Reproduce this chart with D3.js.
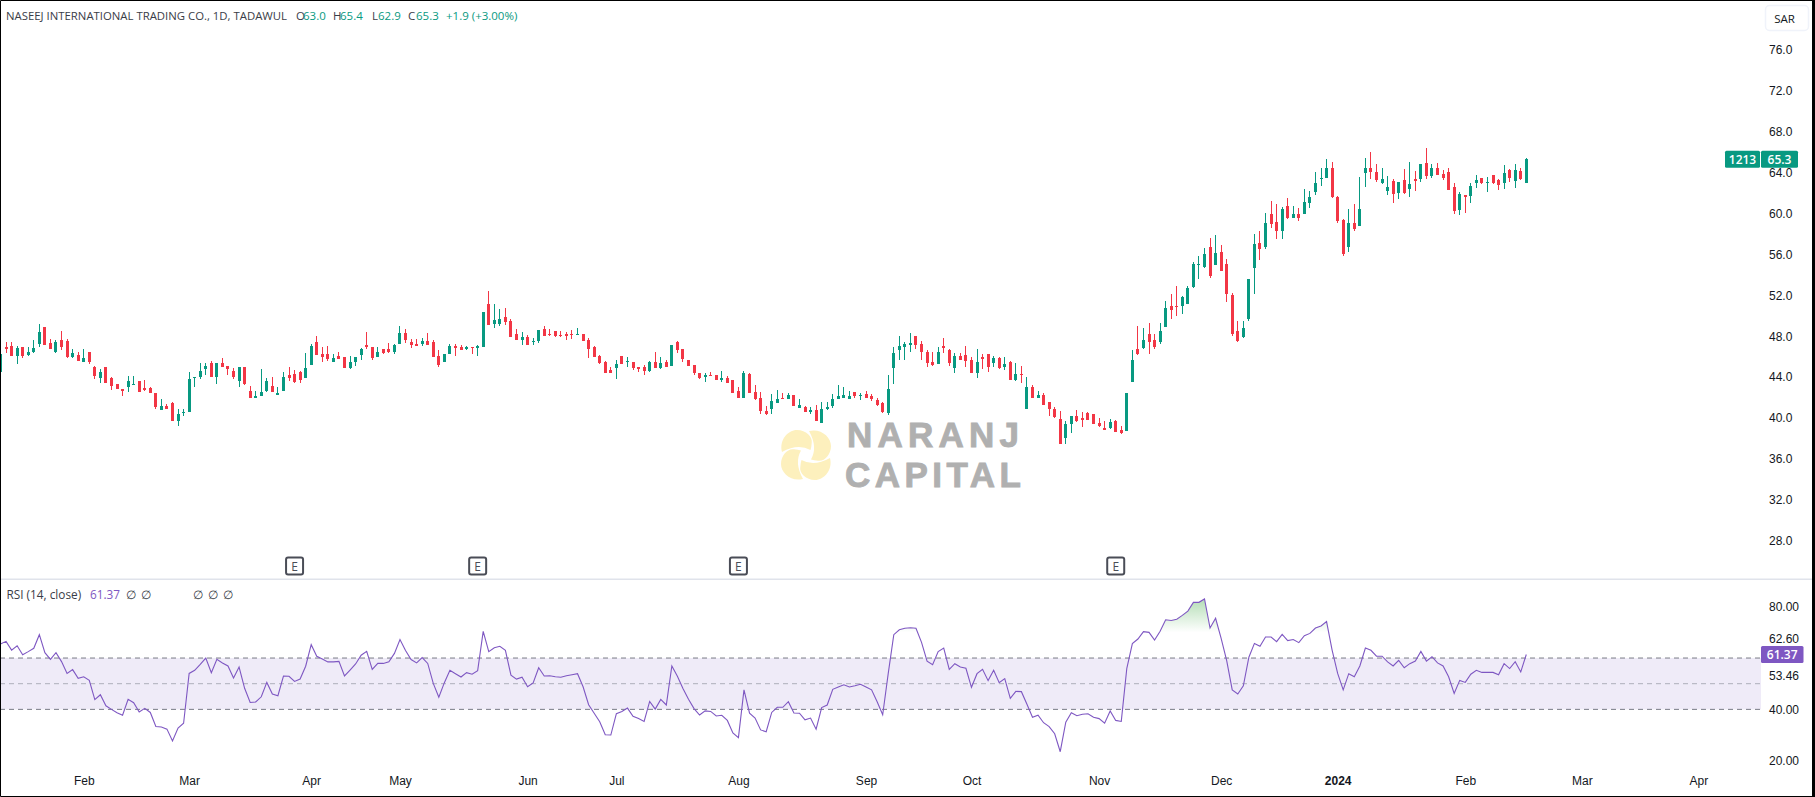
<!DOCTYPE html>
<html>
<head>
<meta charset="utf-8">
<script src="https://cdn.jsdelivr.net/npm/d3@7"></script>
<style>
  html, body { margin: 0; padding: 0; background: #fff; overflow: hidden; }
  svg { display: block; font-family: "Open Sans", sans-serif; }
</style>
</head>
<body>
<div id="chart"></div>
<script>
// daily candles
var highs = [46.3,47.4,47.4,47.0,46.9,46.9,47.6,49.2,48.9,47.7,
47.6,48.5,47.7,46.7,46.5,46.7,46.5,45.1,44.8,45.0,
44.0,43.3,42.8,44.1,44.1,43.6,43.7,43.0,42.4,41.9,
41.4,41.6,40.9,40.9,44.5,44.0,45.4,45.4,45.6,45.4,
45.9,45.1,44.9,45.0,45.0,43.1,42.6,44.8,43.9,44.0,
43.0,44.5,45.0,44.7,44.6,46.4,47.2,48.0,46.9,47.0,
46.3,46.5,46.0,46.1,46.0,46.8,48.4,46.9,46.9,46.7,
47.3,47.2,49.0,48.7,47.7,47.7,47.8,48.3,47.6,46.6,
46.3,47.2,47.2,47.1,47.0,46.9,47.1,50.4,52.4,51.1,
50.7,50.8,49.7,48.7,48.4,48.1,47.8,48.6,49.0,48.7,
48.5,48.5,48.4,48.6,48.8,48.2,47.8,47.0,46.2,45.6,
45.0,45.7,46.1,46.0,45.5,45.0,45.2,45.6,46.5,46.0,
45.7,47.1,47.5,46.7,45.7,45.2,44.4,44.4,44.5,44.2,
44.6,44.1,43.7,43.0,44.6,44.4,43.2,42.5,41.2,42.3,
42.7,42.4,42.4,42.2,41.9,41.2,41.1,41.3,41.6,41.6,
42.3,43.2,43.0,42.6,42.5,42.4,42.6,42.3,42.0,41.6,
44.2,46.9,48.0,47.4,48.3,48.0,47.5,46.6,46.5,46.9,
47.8,46.7,46.4,46.4,47.0,46.0,46.7,46.3,46.3,46.1,
46.0,46.0,45.6,45.4,45.1,44.0,43.2,42.6,42.4,41.6,
41.1,40.7,39.7,40.2,40.8,40.6,40.6,40.4,40.0,39.7,
39.9,39.8,39.2,42.4,46.6,49.0,48.8,49.3,48.2,49.3,
51.4,52.1,52.9,51.9,52.9,55.3,55.8,56.6,57.6,57.9,
56.9,55.6,52.2,49.5,49.5,53.6,58.0,58.3,60.1,61.2,
60.9,60.6,61.5,60.7,60.5,62.4,62.2,64.1,64.5,65.3,
65.0,61.7,59.5,60.4,60.9,63.6,65.4,66.0,64.8,64.5,
63.7,63.4,63.1,64.4,65.0,64.2,64.8,66.4,64.8,64.9,
64.3,64.5,63.0,62.1,61.8,63.0,63.8,63.5,63.6,63.8,
63.4,64.7,64.4,64.8,64.5,65.4];

var lows = [44.5,46.4,46.1,45.3,45.9,46.1,46.4,46.9,47.1,46.7,
46.4,46.6,45.9,45.9,45.6,45.5,45.3,43.8,43.4,43.4,
42.7,42.8,42.1,42.5,43.2,42.5,42.6,42.4,40.9,40.8,
40.9,39.7,39.2,40.2,40.6,43.0,43.8,44.2,44.0,43.3,
45.0,44.2,43.8,43.0,43.2,42.0,42.0,42.1,42.5,42.5,
42.2,42.6,43.6,43.4,43.4,43.9,45.2,46.2,45.5,45.6,
45.5,45.8,44.9,44.8,45.1,45.7,46.7,45.7,46.0,46.3,
46.4,46.3,47.2,47.3,46.8,47.0,47.0,47.1,46.0,45.0,
45.5,46.3,46.1,46.6,46.6,46.3,46.1,46.9,49.1,48.8,
49.0,49.1,47.9,47.6,47.1,47.1,47.1,47.3,48.0,48.0,
47.9,47.9,47.6,47.7,48.1,47.5,45.9,46.0,45.3,44.4,
44.4,43.8,45.3,45.0,44.7,44.5,44.2,44.5,44.9,44.8,
45.0,45.1,46.4,45.5,45.1,44.2,43.8,43.5,44.1,43.7,
43.5,43.4,42.4,42.0,42.0,42.4,41.8,40.4,40.3,40.4,
41.5,41.9,41.9,41.2,41.0,40.6,40.4,39.7,39.5,40.8,
41.0,41.9,42.0,41.9,42.0,41.8,42.0,41.7,41.2,40.5,
40.3,43.3,45.7,45.7,46.5,46.7,45.7,45.0,45.1,45.3,
46.4,45.1,44.4,45.7,45.0,44.4,43.9,44.8,44.5,45.0,
44.8,44.7,43.7,43.6,43.4,40.9,42.0,42.0,41.3,40.2,
40.0,37.5,37.5,38.5,39.6,39.1,39.8,39.4,39.1,38.8,
38.9,38.6,38.4,38.7,43.5,46.2,46.7,46.3,46.7,47.2,
48.9,49.7,50.0,50.2,51.1,52.7,53.6,54.7,53.7,55.0,
54.4,51.3,48.0,47.4,47.8,49.5,52.1,55.5,56.5,58.6,
57.5,57.5,59.5,59.6,59.3,60.0,60.5,61.8,62.7,63.5,
61.5,59.1,55.8,56.2,58.3,58.8,62.6,63.4,63.1,62.9,
61.8,61.0,61.4,61.9,61.6,62.2,63.1,63.4,63.5,63.8,
63.3,62.3,60.0,59.9,60.1,61.0,62.5,62.9,62.1,62.9,
62.3,62.4,63.1,62.5,63.3,63.0];

var opens = [44.5,46.9,47.0,46.1,46.9,46.2,46.5,47.2,48.9,47.3,
46.5,47.6,47.5,46.0,46.2,45.5,46.5,45.0,43.9,45.0,
43.9,43.3,42.8,43.0,43.2,43.6,42.9,42.9,42.4,40.8,
41.2,41.5,39.7,40.5,40.6,43.9,44.0,44.8,45.4,44.0,
45.4,45.1,44.6,43.6,45.0,42.6,42.0,42.1,42.6,43.1,
42.2,42.6,44.2,44.3,44.5,43.9,45.2,47.4,46.3,46.3,
45.5,46.1,46.0,44.9,45.5,46.2,47.1,46.9,46.0,46.7,
46.7,46.5,47.2,48.3,47.4,47.2,47.2,47.5,47.4,46.1,
45.5,46.3,47.0,46.9,46.7,46.9,46.8,46.9,51.1,49.2,
49.2,49.9,49.5,48.2,47.6,47.9,47.4,47.5,48.7,48.2,
48.5,48.1,48.2,48.2,48.1,48.2,47.6,46.9,46.1,45.5,
44.7,44.9,46.1,45.5,45.5,45.0,45.0,44.6,45.5,44.9,
45.5,45.1,47.4,46.7,45.7,45.2,44.4,44.0,44.2,44.2,
43.7,43.9,43.7,42.6,42.0,44.3,42.5,42.0,40.7,40.9,
41.5,42.0,41.9,42.2,41.0,41.1,40.6,40.8,39.5,40.9,
41.2,41.9,42.0,41.9,42.5,42.1,42.3,42.1,41.8,41.5,
40.5,44.9,46.6,46.9,47.1,48.0,47.2,46.5,45.5,45.3,
47.0,46.6,44.9,46.1,46.2,45.7,44.4,46.0,46.3,45.4,
45.9,45.0,45.5,43.7,44.3,40.9,43.0,42.0,42.2,41.6,
40.9,39.9,38.0,39.4,40.2,40.0,40.5,40.4,39.5,39.0,
39.0,39.7,38.8,38.7,43.5,46.7,46.8,48.2,47.6,47.4,
48.9,51.0,51.0,51.0,51.1,52.8,55.0,54.8,56.7,55.0,
56.2,55.1,52.0,48.5,47.9,49.7,54.7,57.1,56.7,60.0,
59.2,58.3,60.7,59.6,60.0,60.0,61.0,62.1,63.4,63.5,
64.5,61.6,59.4,56.7,59.1,58.8,64.0,64.5,64.1,63.0,
62.2,63.2,62.0,63.3,62.4,63.4,63.4,64.9,63.7,64.5,
63.9,64.1,62.6,60.3,61.8,61.7,63.0,63.5,63.0,63.8,
63.3,63.0,64.3,63.2,64.2,63.0];

var closes = [46.3,46.7,46.1,46.8,46.1,46.5,46.8,48.4,47.1,46.7,
47.4,46.9,46.0,46.4,45.6,45.9,45.5,44.1,44.5,43.4,
43.1,42.8,42.6,43.6,43.3,42.5,42.7,42.4,41.1,41.2,
40.9,39.7,40.4,40.6,43.8,44.0,44.6,45.1,44.0,45.4,
45.0,44.8,44.0,45.0,43.3,42.0,42.1,42.5,43.6,42.5,
42.4,44.0,43.9,43.5,43.7,44.9,47.0,46.2,46.0,45.8,
45.9,45.8,44.9,45.5,46.0,46.7,46.9,45.9,46.5,46.4,
46.5,47.1,48.3,47.6,47.1,47.0,47.5,47.1,46.0,45.2,
46.3,47.0,46.8,46.6,46.9,46.8,47.0,50.4,49.1,49.6,
49.7,49.4,47.9,47.6,47.9,47.1,47.5,48.6,48.0,48.1,
48.0,48.0,48.0,48.1,48.2,47.5,46.7,46.0,45.4,44.4,
44.4,45.3,45.3,45.6,44.9,44.8,44.6,45.5,44.9,45.4,
45.0,47.1,46.6,45.8,45.1,44.4,43.9,44.2,44.1,43.7,
43.9,43.4,42.4,42.0,44.4,42.4,41.9,40.7,40.4,41.7,
41.9,41.9,42.2,41.2,41.3,40.6,40.8,39.7,40.9,41.1,
41.9,42.1,42.2,42.1,42.1,42.2,42.0,41.9,41.3,40.6,
42.8,46.4,47.0,47.2,47.3,47.1,46.5,45.4,45.2,46.5,
46.8,45.4,46.1,45.7,45.6,44.4,45.5,45.8,45.0,45.9,
44.9,45.3,43.7,44.3,44.2,43.0,42.0,42.2,41.3,40.9,
40.1,37.5,39.4,40.2,39.7,39.8,39.8,39.4,39.2,38.8,
39.6,38.6,38.5,42.4,45.7,46.3,47.6,47.4,46.9,48.5,
50.8,50.6,50.9,51.8,52.7,55.1,55.1,56.0,53.9,56.1,
54.4,52.1,48.2,47.5,48.8,53.6,57.0,56.5,59.1,59.0,
58.3,60.4,59.6,60.0,59.6,61.1,61.6,63.0,63.5,64.5,
61.6,59.3,56.0,59.1,58.5,60.4,64.5,64.1,63.3,63.4,
62.6,61.9,63.1,62.0,62.9,63.2,64.8,63.7,64.5,63.8,
63.5,62.3,60.2,61.9,61.6,62.7,63.3,63.0,63.1,63.0,
62.8,64.0,63.5,64.3,63.4,65.3];

// rsi line, one value per candle
var rsiValues = [65.5,66.5,63.1,64.8,61.3,62.5,63.8,69.1,62.1,59.5,
62.1,58.6,54.0,55.5,52.1,52.7,51.3,43.8,45.7,41.4,
40.0,38.7,37.7,43.9,42.6,39.0,40.4,38.8,33.3,33.1,
32.3,27.7,32.7,34.6,54.0,55.2,57.5,60.0,54.3,59.5,
58.1,56.9,52.2,56.5,48.2,42.7,42.9,44.9,50.5,46.0,
45.3,53.0,52.9,50.9,51.8,56.8,65.2,60.7,59.6,58.5,
58.5,58.7,53.0,55.3,57.7,61.1,62.6,55.6,57.9,57.9,
58.5,61.8,67.2,62.9,59.4,58.1,60.2,57.9,50.1,44.7,
50.4,55.2,53.9,52.6,54.3,53.7,55.1,70.4,62.5,64.0,
64.6,63.0,53.3,51.8,52.5,48.8,50.3,56.2,53.0,53.1,
52.7,52.5,53.1,53.5,53.9,48.8,41.8,38.5,35.2,30.1,
30.0,38.3,39.2,40.5,37.3,36.4,35.3,43.1,40.1,43.9,
41.7,56.9,52.9,48.1,43.9,40.3,37.8,39.4,39.2,37.4,
37.7,35.7,30.8,29.0,47.6,38.5,36.6,32.0,31.3,38.8,
40.8,40.8,43.0,38.6,38.5,35.9,36.6,32.3,40.7,41.7,
47.8,48.7,49.6,48.7,49.2,49.8,48.7,47.6,43.0,37.9,
54.0,69.1,71.0,71.6,71.8,71.6,66.1,58.8,57.4,62.5,
63.9,55.6,57.8,56.5,56.0,48.6,53.9,55.6,51.2,55.2,
50.4,52.0,44.3,47.0,46.9,42.0,36.9,37.7,34.8,33.3,
30.5,23.5,35.0,38.7,37.5,38.1,38.3,36.9,36.4,34.6,
39.4,35.7,35.3,56.0,65.6,67.4,70.3,70.0,67.0,70.4,
74.9,74.6,75.1,76.6,78.3,81.7,81.7,83.0,71.7,75.5,
67.7,59.0,47.6,46.0,49.2,60.3,65.7,64.6,68.2,68.2,
66.4,69.2,66.8,67.2,66.0,68.7,69.6,71.7,72.5,74.2,
63.1,54.0,47.6,53.9,52.7,56.9,63.9,63.0,60.7,60.7,
58.5,56.9,59.1,56.2,57.8,58.8,62.6,58.8,60.5,58.1,
56.9,52.7,46.2,51.3,50.5,53.7,55.2,54.4,54.4,54.4,
53.5,57.8,55.9,58.6,54.6,61.37];

// axis labels
var priceTicks = [76,72,68,64,60,56,52,48,44,40,36,32,28];
var rsiTicks = [80,62.6,53.46,40,20];
var monthCandles = [15,34,56,72,95,111,133,156,175,198,220,241,264,285,306];
var monthLabels = ["Feb","Mar","Apr","May","Jun","Jul","Aug","Sep","Oct","Nov","Dec","2024","Feb","Mar","Apr"];
var earningsCandles = [53,86,133,201];
var rsiLevels = [60,50,40];
var overbought = 70;

// set the dimensions of the graph
var width = 1815, height = 797;
var paneRight = 1761;
var green = "#089981", red = "#f23645", purple = "#7e57c2";
var textColor = "#131722", legendColor = "#3a3d47";

var svg = d3.select("#chart")
  .append("svg")
    .attr("width", width)
    .attr("height", height);

var x = d3.scaleLinear().domain([0, 275]).range([0.5, 1526.3]);
var y = d3.scaleLinear().domain([76, 28]).range([50, 540.6]);
var yRsi = d3.scaleLinear().domain([80, 20]).range([606.7, 760.7]);

// pane divider
svg.append("rect")
  .attr("x", 0).attr("y", 578.5).attr("width", width).attr("height", 1.5)
  .attr("fill", "#e0e3eb");

// watermark
var logo = svg.append("g").attr("transform", "translate(806,455)");
logo.selectAll("path")
  .data([0, 90, 180, 270])
  .enter()
  .append("path")
    .attr("d", "M-24,-3 C-27,-15 -18,-25 -9,-25 C0,-25 7,-18 5.7,-12 Q5.5,-8 4.5,-5 Q-8,-12 -24,-3 Z")
    .attr("transform", function(d) { return "rotate(" + d + ")"; })
    .attr("fill", "#fdf0bd");

var markFont = '"Liberation Sans", sans-serif';
svg.append("text")
  .attr("x", 847).attr("y", 447)
  .attr("textLength", 172).attr("lengthAdjust", "spacing")
  .attr("font-family", markFont)
  .attr("font-size", 35).attr("font-weight", 700).attr("fill", "#b0b0b0")
  .attr("stroke", "#b0b0b0").attr("stroke-width", 0.9)
  .text("NARANJ");
svg.append("text")
  .attr("x", 845).attr("y", 487)
  .attr("textLength", 176).attr("lengthAdjust", "spacing")
  .attr("font-family", markFont)
  .attr("font-size", 35).attr("font-weight", 700).attr("fill", "#b0b0b0")
  .attr("stroke", "#b0b0b0").attr("stroke-width", 0.9)
  .text("CAPITAL");

// candles
var candles = svg.append("g").selectAll("g")
  .data(d3.range(closes.length))
  .enter()
  .append("g")
    .attr("fill", function(i) { return closes[i] >= opens[i] ? green : red; })
    .attr("shape-rendering", "crispEdges");

candles.append("rect")
  .attr("x", function(i) { return Math.floor(x(i)); })
  .attr("y", function(i) { return Math.round(y(highs[i])); })
  .attr("width", 1)
  .attr("height", function(i) { return Math.round(y(lows[i])) - Math.round(y(highs[i])); });

candles.append("rect")
  .attr("x", function(i) { return Math.floor(x(i)) - 1; })
  .attr("y", function(i) { return Math.round(y(Math.max(opens[i], closes[i]))); })
  .attr("width", 3)
  .attr("height", function(i) {
    return Math.max(1, Math.round(y(Math.min(opens[i], closes[i]))) - Math.round(y(Math.max(opens[i], closes[i]))));
  });

// earnings markers
var earnings = svg.append("g").selectAll("g")
  .data(earningsCandles)
  .enter()
  .append("g")
    .attr("transform", function(d) { return "translate(" + x(d) + ",566)"; });
earnings.append("rect")
  .attr("x", -8.5).attr("y", -8.5).attr("width", 17).attr("height", 17).attr("rx", 2)
  .attr("fill", "#fff").attr("stroke", "#4a4d57").attr("stroke-width", 2);
earnings.append("text")
  .attr("text-anchor", "middle").attr("y", 4.5)
  .attr("font-size", 12).attr("fill", "#4a4d57")
  .text("E");

// rsi band and levels
svg.append("rect")
  .attr("x", 0).attr("y", yRsi(60)).attr("width", paneRight)
  .attr("height", yRsi(40) - yRsi(60))
  .attr("fill", purple).attr("fill-opacity", 0.12);

svg.append("g").selectAll("line")
  .data(rsiLevels)
  .enter()
  .append("line")
    .attr("x1", 0).attr("x2", paneRight)
    .attr("y1", function(d) { return yRsi(d); })
    .attr("y2", function(d) { return yRsi(d); })
    .attr("stroke", "#787b86")
    .attr("stroke-opacity", function(d) { return d === 50 ? 0.55 : 1; })
    .attr("stroke-width", 1)
    .attr("stroke-dasharray", "5,4");

// green fill above the overbought level
var defs = svg.append("defs");
var grad = defs.append("linearGradient")
  .attr("id", "obFill")
  .attr("gradientUnits", "userSpaceOnUse")
  .attr("x1", 0).attr("x2", 0)
  .attr("y1", yRsi(84)).attr("y2", yRsi(overbought));
grad.append("stop").attr("offset", 0).attr("stop-color", "#4caf50").attr("stop-opacity", 0.45);
grad.append("stop").attr("offset", 1).attr("stop-color", "#4caf50").attr("stop-opacity", 0);

defs.append("clipPath").attr("id", "obClip")
  .append("rect")
    .attr("x", 0).attr("y", 0).attr("width", width).attr("height", yRsi(overbought));

var rsiArea = d3.area()
  .x(function(d, i) { return x(i); })
  .y0(yRsi(overbought))
  .y1(function(d) { return yRsi(d); });

svg.append("path")
  .datum(rsiValues)
  .attr("d", rsiArea)
  .attr("fill", "url(#obFill)")
  .attr("clip-path", "url(#obClip)");

// rsi line
var rsiLine = d3.line()
  .x(function(d, i) { return x(i); })
  .y(function(d) { return yRsi(d); });

svg.append("path")
  .datum(rsiValues)
  .attr("d", rsiLine)
  .attr("fill", "none")
  .attr("stroke", purple)
  .attr("stroke-width", 1.1);

// price axis
var priceAxis = svg.append("g")
  .attr("transform", "translate(1769,0)")
  .call(d3.axisRight(y).tickValues(priceTicks).tickSize(0).tickPadding(0)
    .tickFormat(d3.format(".1f")));
priceAxis.select(".domain").remove();
priceAxis.selectAll("text").attr("font-size", 12).attr("font-family", "inherit").attr("fill", textColor);

// rsi axis, the label under the value tag moves up
var lastRsi = rsiValues[rsiValues.length - 1];
var rsiAxis = svg.append("g")
  .attr("transform", "translate(1769,0)")
  .call(d3.axisRight(yRsi).tickValues(rsiTicks).tickSize(0).tickPadding(0)
    .tickFormat(d3.format(".2f")));
rsiAxis.select(".domain").remove();
rsiAxis.selectAll("text").attr("font-size", 12).attr("font-family", "inherit").attr("fill", textColor)
  .attr("dy", function(d) { return Math.abs(yRsi(d) - yRsi(lastRsi)) < 8 ? "-0.7em" : "0.32em"; });
rsiAxis.selectAll(".tick").filter(function(d) { return d === 53.46; })
  .select("text").attr("dy", "0.42em");

// time axis
var timeAxis = svg.append("g")
  .attr("transform", "translate(0,776)")
  .call(d3.axisBottom(x).tickValues(monthCandles).tickSize(0).tickPadding(0)
    .tickFormat(function(d, i) { return monthLabels[i]; }));
timeAxis.select(".domain").remove();
timeAxis.selectAll("text")
  .attr("font-size", 12).attr("font-family", "inherit").attr("fill", textColor)
  .attr("font-weight", function(d) { return d === 241 ? 700 : 400; });

// last price tags
var lastClose = closes[closes.length - 1];
var tagY = y(lastClose);
var tags = [
  {x: 1725, w: 35, label: "1213"},
  {x: 1761, w: 37, label: d3.format(".1f")(lastClose)}
];
var tag = svg.append("g").selectAll("g").data(tags).enter().append("g");
tag.append("rect")
  .attr("x", function(d) { return d.x; }).attr("y", tagY - 8.5)
  .attr("width", function(d) { return d.w; }).attr("height", 17)
  .attr("rx", 1.5).attr("fill", green);
tag.append("text")
  .attr("x", function(d) { return d.x + d.w / 2; }).attr("y", tagY + 4.3)
  .attr("text-anchor", "middle").attr("font-size", 12).attr("font-weight", 600).attr("fill", "#fff")
  .text(function(d) { return d.label; });

svg.append("rect")
  .attr("x", 1761).attr("y", yRsi(lastRsi) - 8.5).attr("width", 42.5).attr("height", 17)
  .attr("rx", 1.5).attr("fill", purple);
svg.append("text")
  .attr("x", 1782.2).attr("y", yRsi(lastRsi) + 4.3)
  .attr("text-anchor", "middle").attr("font-size", 12).attr("font-weight", 600).attr("fill", "#fff")
  .text(d3.format(".2f")(lastRsi));

// currency button
svg.append("rect")
  .attr("x", 1765.5).attr("y", 5.5).attr("width", 43).attr("height", 25).attr("rx", 4)
  .attr("fill", "#fff").attr("stroke", "#f0f3fa").attr("stroke-width", 1.5);
svg.append("text")
  .attr("x", 1784.5).attr("y", 23).attr("text-anchor", "middle")
  .attr("font-size", 11.5).attr("fill", textColor).text("SAR");

// legends
var titleParts = [
  {x: 296, c: legendColor, t: "O"}, {x: 303, c: green, t: d3.format(".1f")(opens[275])},
  {x: 333, c: legendColor, t: "H"}, {x: 340, c: green, t: d3.format(".1f")(highs[275])},
  {x: 372, c: legendColor, t: "L"}, {x: 378, c: green, t: "62.9"},
  {x: 408, c: legendColor, t: "C"}, {x: 416, c: green, t: d3.format(".1f")(lastClose)},
  {x: 446, c: green, t: "+1.9 (+3.00%)"}
];
svg.append("text")
  .attr("x", 6).attr("y", 20)
  .attr("textLength", 281).attr("lengthAdjust", "spacingAndGlyphs")
  .attr("font-size", 11.5).attr("fill", legendColor)
  .text("NASEEJ INTERNATIONAL TRADING CO., 1D, TADAWUL");
svg.append("g").selectAll("text")
  .data(titleParts)
  .enter()
  .append("text")
    .attr("x", function(d) { return d.x; })
    .attr("y", 20)
    .attr("font-size", 11.5)
    .attr("fill", function(d) { return d.c; })
    .text(function(d) { return d.t; });

svg.append("text")
  .attr("x", 6.5).attr("y", 599)
  .attr("font-size", 11.8).attr("fill", legendColor)
  .text("RSI (14, close)");
svg.append("text")
  .attr("x", 90).attr("y", 599)
  .attr("font-size", 11.8).attr("fill", purple)
  .text(d3.format(".2f")(lastRsi));

var emptyValues = [131, 146, 197.7, 213, 228];
svg.append("g").selectAll("text")
  .data(emptyValues)
  .enter()
  .append("text")
    .attr("x", function(d) { return d; })
    .attr("y", 599)
    .attr("text-anchor", "middle")
    .attr("font-size", 11.8)
    .attr("fill", legendColor)
    .text("\u2205");

// black frame of the screenshot
svg.append("path")
  .attr("d", "M0.5,0.5 H1813.5 V796.5 H0.5 Z")
  .attr("fill", "none")
  .attr("stroke", "#000")
  .attr("stroke-width", 1);
svg.append("rect")
  .attr("x", 1812).attr("y", 0).attr("width", 3).attr("height", height)
  .attr("fill", "#000");
</script>
</body>
</html>
